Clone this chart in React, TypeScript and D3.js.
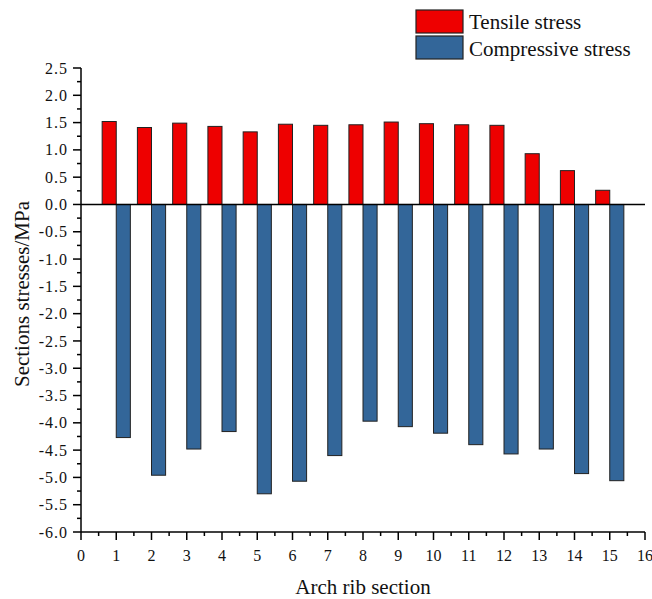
import React from "react";
import * as d3 from "d3";

const sections = [1, 2, 3, 4, 5, 6, 7, 8, 9, 10, 11, 12, 13, 14, 15];
const tensile = [1.52, 1.41, 1.49, 1.43, 1.33, 1.47, 1.45, 1.46, 1.51, 1.48, 1.46, 1.45, 0.93, 0.62, 0.26];
const compressive = [-4.27, -4.96, -4.48, -4.16, -5.3, -5.07, -4.6, -3.97, -4.07, -4.19, -4.4, -4.57, -4.48, -4.93, -5.06];
const xTicks = d3.range(0, 17, 1);
const yTicks = d3.range(-6, 2.51, 0.5);
const seriesNames = ["Tensile stress", "Compressive stress"];
const seriesColors = ["#ee0000", "#336699"];

const W = 652;
const H = 599;
const FONT = "'Liberation Serif', 'Times New Roman', serif";

export default function App() {
  const x = d3.scaleLinear().domain([0, 16]).range([81, 645]);
  const y = d3.scaleLinear().domain([-6, 2.5]).range([532, 68]);
  const barW = 0.4;
  const xMinor = d3.range(0.5, 16, 1);
  const yMinor = d3.range(-5.75, 2.5, 0.5);

  return (
    <svg
      width={W}
      height={H}
      style={{ position: "absolute", left: 0, top: 0, background: "#fff" }}
      fontFamily={FONT}
    >
      {/* bars */}
      {sections.map((s, i) => (
        <g key={s}>
          <rect
            x={x(s - barW)}
            y={y(tensile[i])}
            width={x(s) - x(s - barW)}
            height={y(0) - y(tensile[i])}
            fill={seriesColors[0]}
            stroke="#222"
            strokeWidth={1}
          />
          <rect
            x={x(s)}
            y={y(0)}
            width={x(s + barW) - x(s)}
            height={y(compressive[i]) - y(0)}
            fill={seriesColors[1]}
            stroke="#222"
            strokeWidth={1}
          />
        </g>
      ))}
      {/* zero line */}
      <line x1={x(0)} x2={x(16)} y1={y(0)} y2={y(0)} stroke="#000" strokeWidth={1.5} />
      {/* axes */}
      <line x1={x(0)} x2={x(0)} y1={y(2.5)} y2={y(-6)} stroke="#000" strokeWidth={1.5} />
      <line x1={x(0)} x2={x(16)} y1={y(-6)} y2={y(-6)} stroke="#000" strokeWidth={1.5} />
      {/* y ticks */}
      {yTicks.map((t) => (
        <g key={"y" + t}>
          <line x1={x(0) - 8} x2={x(0)} y1={y(t)} y2={y(t)} stroke="#000" strokeWidth={1.5} />
          <text
            x={x(0) - 13}
            y={y(t)}
            dy="0.35em"
            textAnchor="end"
            fontSize={16}
            letterSpacing={1}
            fill="#111"
          >
            {d3.format(".1f")(t).replace("−", "-")}
          </text>
        </g>
      ))}
      {yMinor.map((t) => (
        <line key={"ym" + t} x1={x(0) - 4} x2={x(0)} y1={y(t)} y2={y(t)} stroke="#000" strokeWidth={1.5} />
      ))}
      {/* x ticks */}
      {xTicks.map((t) => (
        <g key={"x" + t}>
          <line x1={x(t)} x2={x(t)} y1={y(-6)} y2={y(-6) + 8} stroke="#000" strokeWidth={1.5} />
          <text x={x(t)} y={561} textAnchor="middle" fontSize={16} fill="#111">
            {t}
          </text>
        </g>
      ))}
      {xMinor.map((t) => (
        <line key={"xm" + t} x1={x(t)} x2={x(t)} y1={y(-6)} y2={y(-6) + 4} stroke="#000" strokeWidth={1.5} />
      ))}
      {/* axis titles */}
      <text x={(x(0) + x(16)) / 2} y={594} textAnchor="middle" fontSize={21} fill="#111">
        Arch rib section
      </text>
      <text
        transform={`translate(29, ${(y(2.5) + y(-6)) / 2 - 6}) rotate(-90)`}
        textAnchor="middle"
        fontSize={21}
        fill="#111"
      >
        Sections stresses/MPa
      </text>
      {/* legend */}
      {seriesNames.map((n, i) => (
        <g key={n}>
          <rect x={416} y={10 + i * 26} width={47} height={23} fill={seriesColors[i]} stroke="#222" strokeWidth={1.2} />
          <text x={469} y={29 + i * 27} fontSize={21} fill="#111">
            {n}
          </text>
        </g>
      ))}
    </svg>
  );
}
